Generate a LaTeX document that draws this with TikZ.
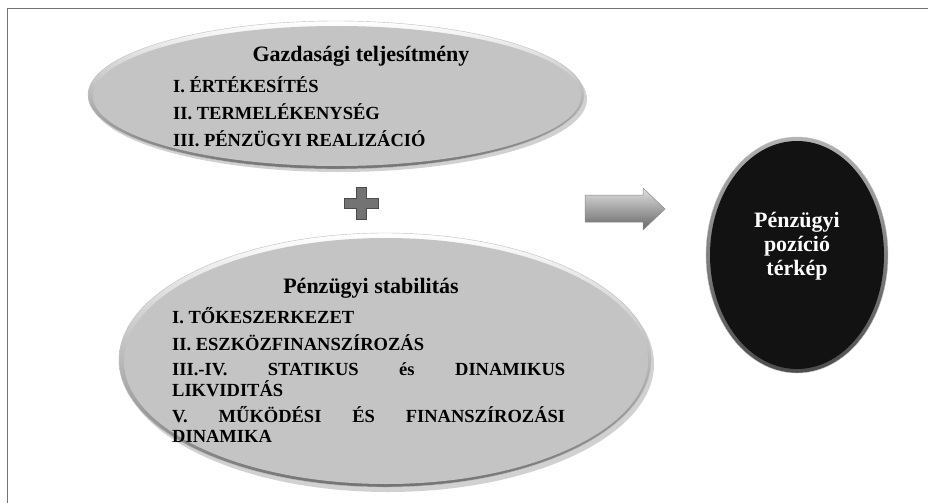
\documentclass[tikz,border=0pt]{standalone}
\usepackage{fontspec}
\setmainfont{Liberation Serif}
\usetikzlibrary{shapes.geometric}
\tikzset{
  rim/.style={ellipse, inner sep=0pt, outer sep=0pt, top color=white, bottom color=black!55, draw=black!25, line width=0.4pt},
  body/.style={ellipse, inner sep=0pt, outer sep=0pt, fill=black!23},
  darkbody/.style={ellipse, inner sep=0pt, outer sep=0pt, fill=black!93},
  title/.style={font=\bfseries\fontsize{22}{24}\selectfont, anchor=base, inner sep=0pt},
  item/.style={font=\bfseries\fontsize{18.5}{21}\selectfont, anchor=base west, inner sep=0pt},
  wtitle/.style={font=\bfseries\fontsize{22}{24}\selectfont, text=white, align=center, inner sep=0pt},
  frame/.style={draw=black!55, line width=1.6pt},
  blockarrow/.style={top color=black!12, bottom color=black!60, draw=black!45, line width=0.5pt},
  plussign/.style={fill=black!55, draw=black!70, line width=0.6pt}
}
\begin{document}
\begin{tikzpicture}[x=1pt, y=-1pt]
\useasboundingbox (0,0) rectangle (928,503);
\fill[white] (0,0) rectangle (928,503);
\draw[frame] (7.5,503) -- (7.5,8.5) -- (928,8.5);

% top ellipse
\fill[black!18] (339,99) ellipse (248 and 73);
\node[rim, minimum width=496, minimum height=148] (e1rim) at (336,95) {};
\node[body, minimum width=488, minimum height=140] (e1) at (337,96) {};
\node[title] (t1) at (361,62) {Gazdasági teljesítmény};
\node[item] (t1a) at (173,92) {I. ÉRTÉKESÍTÉS};
\node[item] (t1b) at (173,119) {II. TERMELÉKENYSÉG};
\node[item] (t1c) at (173,146) {III. PÉNZÜGYI REALIZÁCIÓ};

% plus sign
\path[plussign] (356,187) -- (366,187) -- (366,198) -- (378,198) -- (378,208) -- (366,208) -- (366,219) -- (356,219) -- (356,208) -- (344,208) -- (344,198) -- (356,198) -- cycle;

% bottom ellipse
\fill[black!18] (388,364) ellipse (266 and 128);
\node[rim, minimum width=532, minimum height=254] (e2rim) at (385,360) {};
\node[body, minimum width=524, minimum height=246] (e2) at (386,361) {};
\node[title] (t2) at (371,293) {Pénzügyi stabilitás};
\node[item] (t2a) at (172,323) {I. TŐKESZERKEZET};
\node[item] (t2b) at (172,350) {II. ESZKÖZFINANSZÍROZÁS};
\node[item] (t2c) at (172,375) {\makebox[393pt][s]{III.-IV. STATIKUS és DINAMIKUS}};
\node[item] (t2d) at (172,396) {LIKVIDITÁS};
\node[item] (t2e) at (172,422) {\makebox[393pt][s]{V. MŰKÖDÉSI ÉS FINANSZÍROZÁSI}};
\node[item] (t2f) at (172,442) {DINAMIKA};

% block arrow
\path[blockarrow] (585,195) -- (643,195) -- (643,188) -- (665,209) -- (643,230) -- (643,222) -- (585,222) -- cycle;

% black ellipse
\node[rim, top color=black!30, bottom color=black!70, minimum width=182, minimum height=236] (e3rim) at (797,255) {};
\node[darkbody, minimum width=174, minimum height=228] (e3) at (797,255) {};
\node[wtitle] (t3) at (797,246) {Pénzügyi\\pozíció\\térkép};
\end{tikzpicture}
\end{document}
